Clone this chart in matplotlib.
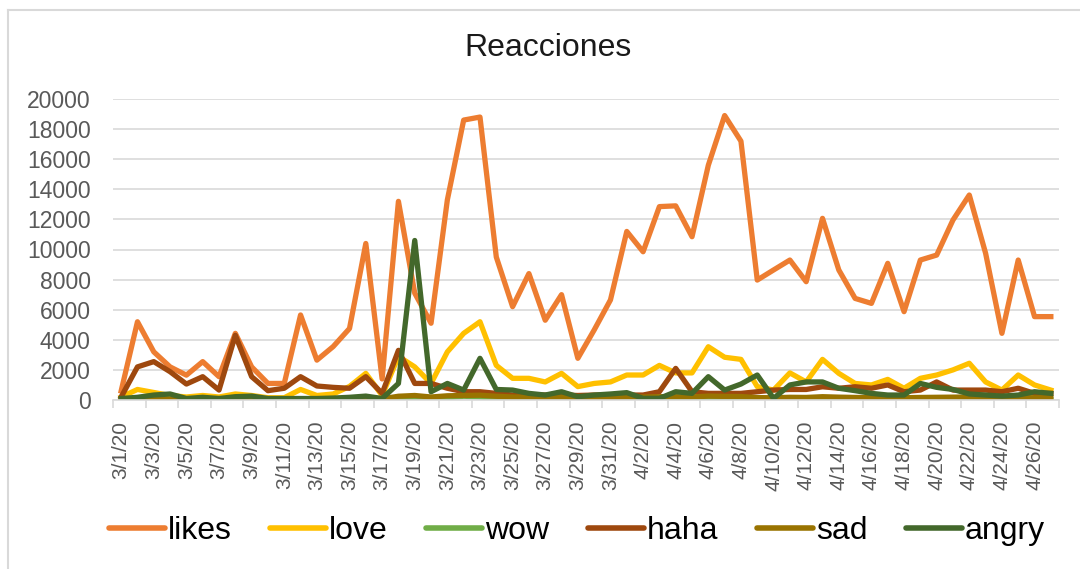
import matplotlib
matplotlib.use("Agg")
import matplotlib.pyplot as plt
from matplotlib.lines import Line2D
import pandas as pd

plt.rcParams['font.family'] = ['Liberation Sans', 'DejaVu Sans']

dates = pd.date_range("2020-03-01", "2020-04-27", freq="D")
labels = [f"{d.month}/{d.day}/20" for d in dates]

likes = [600, 5200, 3200, 2200, 1650, 2550, 1550, 4430, 2200, 1100,
         1100, 5650, 2650, 3550, 4750, 10400, 1400, 13200, 7100, 5100,
         13300, 18600, 18800, 9500, 6200, 8400, 5300, 7000, 2770, 4650,
         6650, 11200, 9850, 12850, 12900, 10850, 15600, 18900, 17200, 7970,
         8640, 9300, 7860, 12070, 8640, 6750, 6420, 9080, 5870, 9300,
         9630, 11960, 13620, 9750, 4430, 9300, 5540, 5540]
love = [200, 700, 500, 300, 200, 300, 200, 400, 300, 150,
        150, 700, 300, 400, 900, 1770, 300, 2900, 2200, 1100,
        3200, 4430, 5200, 2300, 1440, 1440, 1200, 1770, 890, 1100,
        1200, 1660, 1660, 2300, 1800, 1800, 3540, 2840, 2700, 890,
        660, 1800, 1200, 2700, 1770, 1100, 1000, 1370, 780, 1440,
        1660, 2000, 2440, 1200, 660, 1660, 1000, 660]
wow = [20, 40, 30, 30, 20, 30, 20, 40, 30, 20,
       20, 40, 30, 30, 40, 60, 20, 80, 60, 40,
       150, 250, 200, 80, 50, 50, 40, 50, 30, 40,
       40, 60, 50, 60, 60, 50, 90, 80, 70, 40,
       30, 50, 40, 60, 50, 40, 40, 40, 30, 40,
       50, 50, 60, 40, 30, 40, 30, 30]
haha = [200, 2200, 2550, 1880, 1060, 1550, 660, 4300, 1550, 620,
        780, 1550, 930, 840, 780, 1550, 440, 3300, 1100, 1100,
        780, 550, 550, 440, 330, 330, 330, 330, 300, 330,
        330, 330, 330, 550, 2100, 550, 440, 440, 440, 550,
        660, 700, 700, 880, 780, 880, 780, 1000, 550, 660,
        1200, 660, 660, 660, 550, 780, 440, 440]
sad = [50, 80, 80, 60, 50, 60, 50, 100, 80, 50,
       50, 80, 60, 70, 90, 150, 80, 250, 300, 200,
       280, 300, 320, 250, 200, 200, 180, 200, 150, 170,
       170, 200, 200, 220, 220, 200, 260, 240, 230, 160,
       150, 180, 170, 220, 190, 170, 160, 170, 150, 170,
       180, 190, 200, 170, 140, 170, 150, 150]
angry = [100, 180, 330, 400, 100, 180, 100, 220, 260, 100,
         100, 100, 100, 130, 180, 260, 100, 1100, 10600, 550,
         1100, 660, 2770, 700, 660, 440, 330, 550, 220, 330,
         400, 490, 110, 110, 550, 440, 1550, 660, 1060, 1660,
         110, 1000, 1200, 1200, 780, 620, 440, 330, 330, 1100,
         840, 700, 400, 330, 260, 330, 550, 440]

series = ["likes", "love", "wow", "haha", "sad", "angry"]
values = [likes, love, wow, haha, sad, angry]
colors = ["#ED7D31", "#FFC000", "#70AD47", "#9E480E", "#997300", "#43682B"]

fig = plt.figure(figsize=(10.8, 5.69), dpi=100)
ax = fig.add_axes([113/1080, 1 - 400/569, (1059-113)/1080, (400-99)/569])

x = list(range(len(dates)))
for name, vals, c in zip(series, values, colors):
    ax.plot(x, vals, color=c, lw=3.8, label=name, solid_joinstyle='round')

ax.set_xlim(-0.5, len(dates) - 0.5)
ax.set_ylim(0, 20000)
ax.set_yticks(range(0, 20001, 2000))
ax.tick_params(axis='y', length=0, pad=16, labelsize=16.5, labelcolor='#595959')
ax.yaxis.grid(True, color='#D9D9D9', lw=1.2)
ax.set_axisbelow(True)

ax.set_xticks(x[::2])
ax.set_xticklabels(labels[::2], rotation=90, fontsize=15, color='#595959')
ax.set_xticks([i - 0.5 for i in range(0, len(dates) + 1, 2)], minor=True)
ax.tick_params(axis='x', which='major', length=0, pad=15)
ax.tick_params(axis='x', which='minor', length=6, color='#D9D9D9', width=1.2)

for s in ['top', 'right', 'left']:
    ax.spines[s].set_visible(False)
ax.spines['bottom'].set_color('#D9D9D9')
ax.spines['bottom'].set_linewidth(1.2)

fig.text(548/1080, 1 - 48/569, "Reacciones", ha='center', va='center',
         fontsize=23, color='#1a1a1a')

handles = [Line2D([0], [0], color=c, lw=4, solid_capstyle='round') for c in colors]
fig.legend(handles, series, loc='center', bbox_to_anchor=(577/1080, 1 - 531/569),
           ncol=6, frameon=False, fontsize=23, handlelength=1.75,
           handletextpad=0.1, columnspacing=1.2)

# chart area border (top and left visible in the reference)
fig.add_artist(Line2D([7.5/1080, 7.5/1080], [0, 1 - 9.5/569], transform=fig.transFigure,
                      color='#D9D9D9', lw=1.5))
fig.add_artist(Line2D([7.5/1080, 1], [1 - 9.5/569, 1 - 9.5/569], transform=fig.transFigure,
                      color='#D9D9D9', lw=1.5))

fig.savefig("out.png", dpi=100)
